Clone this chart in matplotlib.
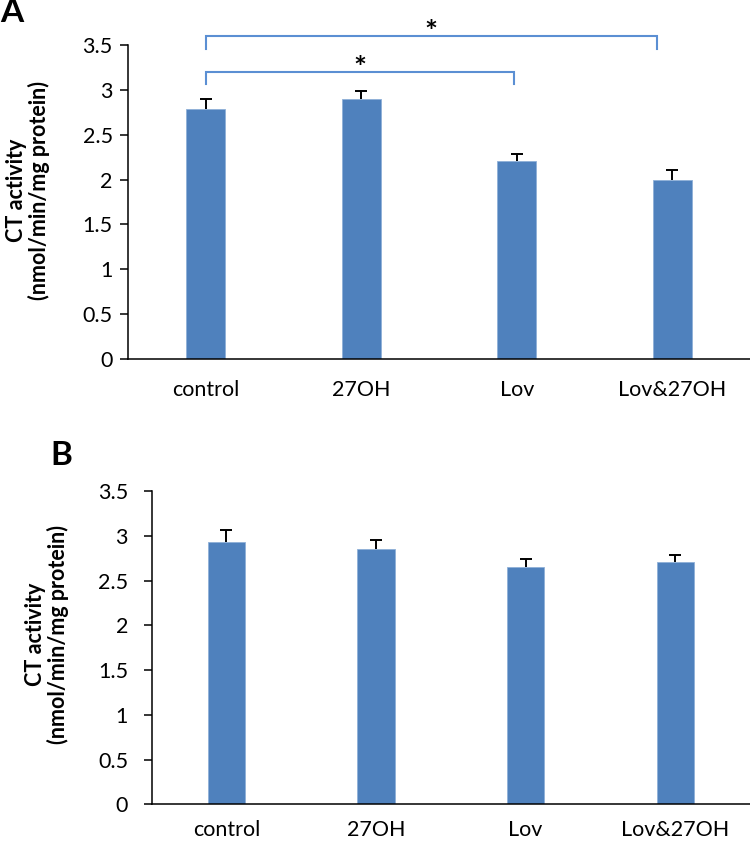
import matplotlib
matplotlib.use("Agg")
import matplotlib.pyplot as plt
import numpy as np

categories = ['control', '27OH', 'Lov', 'Lov&27OH']
a_means = [2.79, 2.90, 2.21, 2.00]
a_err = [0.11, 0.09, 0.07, 0.11]
b_means = [2.93, 2.85, 2.65, 2.71]
b_err = [0.13, 0.10, 0.09, 0.08]
yticks = [0, 0.5, 1, 1.5, 2, 2.5, 3, 3.5]
ytick_labels = ['0', '0.5', '1', '1.5', '2', '2.5', '3', '3.5']
ylabel = 'CT activity\n(nmol/min/mg protein)'

plt.rcParams['font.family'] = ['Lato', 'DejaVu Sans']

W, H = 750, 843
fig = plt.figure(figsize=(W / 100, H / 100), dpi=100)

BAR = '#4F81BD'
BRK = '#5B8FD3'


def make_axes(left_px, top_px, right_px, bottom_px):
    return fig.add_axes([left_px / W, 1 - bottom_px / H,
                         (right_px - left_px) / W, (bottom_px - top_px) / H])


def draw_panel(ax, means, err, ypad, xpad):
    x = np.arange(len(categories))
    means = np.array(means)
    tops = means + np.array(err)
    ax.bar(x, means, width=0.25, color=BAR, edgecolor='#8fb0d8', linewidth=0.6, zorder=2)
    ax.vlines(x, means, tops, color='black', lw=1.4, zorder=3)
    ax.plot(x, tops, ls='none', marker='_', ms=9, mew=1.4, color='black', zorder=3)
    ax.set_xlim(-0.5, len(categories) - 0.5)
    ax.set_ylim(0, 3.5)
    ax.set_yticks(yticks)
    ax.set_yticklabels(ytick_labels)
    ax.set_xticks(x)
    ax.set_xticklabels(categories)
    for s in ['top', 'right']:
        ax.spines[s].set_visible(False)
    for s in ['left', 'bottom']:
        ax.spines[s].set_linewidth(1.1)
    ax.tick_params(axis='y', direction='out', length=6, width=1.1, pad=ypad, labelsize=15.5)
    ax.tick_params(axis='x', length=0, pad=xpad, labelsize=15.5)


# Panel A
axA = make_axes(128, 45, 750, 359)
draw_panel(axA, a_means, a_err, 5, 15)

brackets = [(0, 2.90, 3.60, 3.46), (0, 1.985, 3.20, 3.07)]
for x0, x1, yb, yl in brackets:
    axA.plot([x0, x0, x1, x1], [yl, yb, yb, yl], color=BRK, lw=1.5, clip_on=False,
             solid_joinstyle='miter')
    axA.text((x0 + x1) / 2, yb - 0.12, '*', ha='center', va='bottom', fontsize=22,
             fontweight='bold', clip_on=False)

fig.text(28 / W, 1 - 190 / H, ylabel, rotation=90, ha='center', va='center',
         fontsize=15.5, fontweight='bold', linespacing=1.1)
fig.text(0 / W, 1 - 13 / H, 'A', ha='left', va='center', fontsize=24, fontweight='bold')

# Panel B
axB = make_axes(151.7, 491, 750, 804.3)
draw_panel(axB, b_means, b_err, 11, 11)
fig.text(47 / W, 1 - 634 / H, ylabel, rotation=90, ha='center', va='center',
         fontsize=15.5, fontweight='bold', linespacing=1.1)
fig.text(50 / W, 1 - 455 / H, 'B', ha='left', va='center', fontsize=24, fontweight='bold')

fig.savefig('out.png', dpi=100)
